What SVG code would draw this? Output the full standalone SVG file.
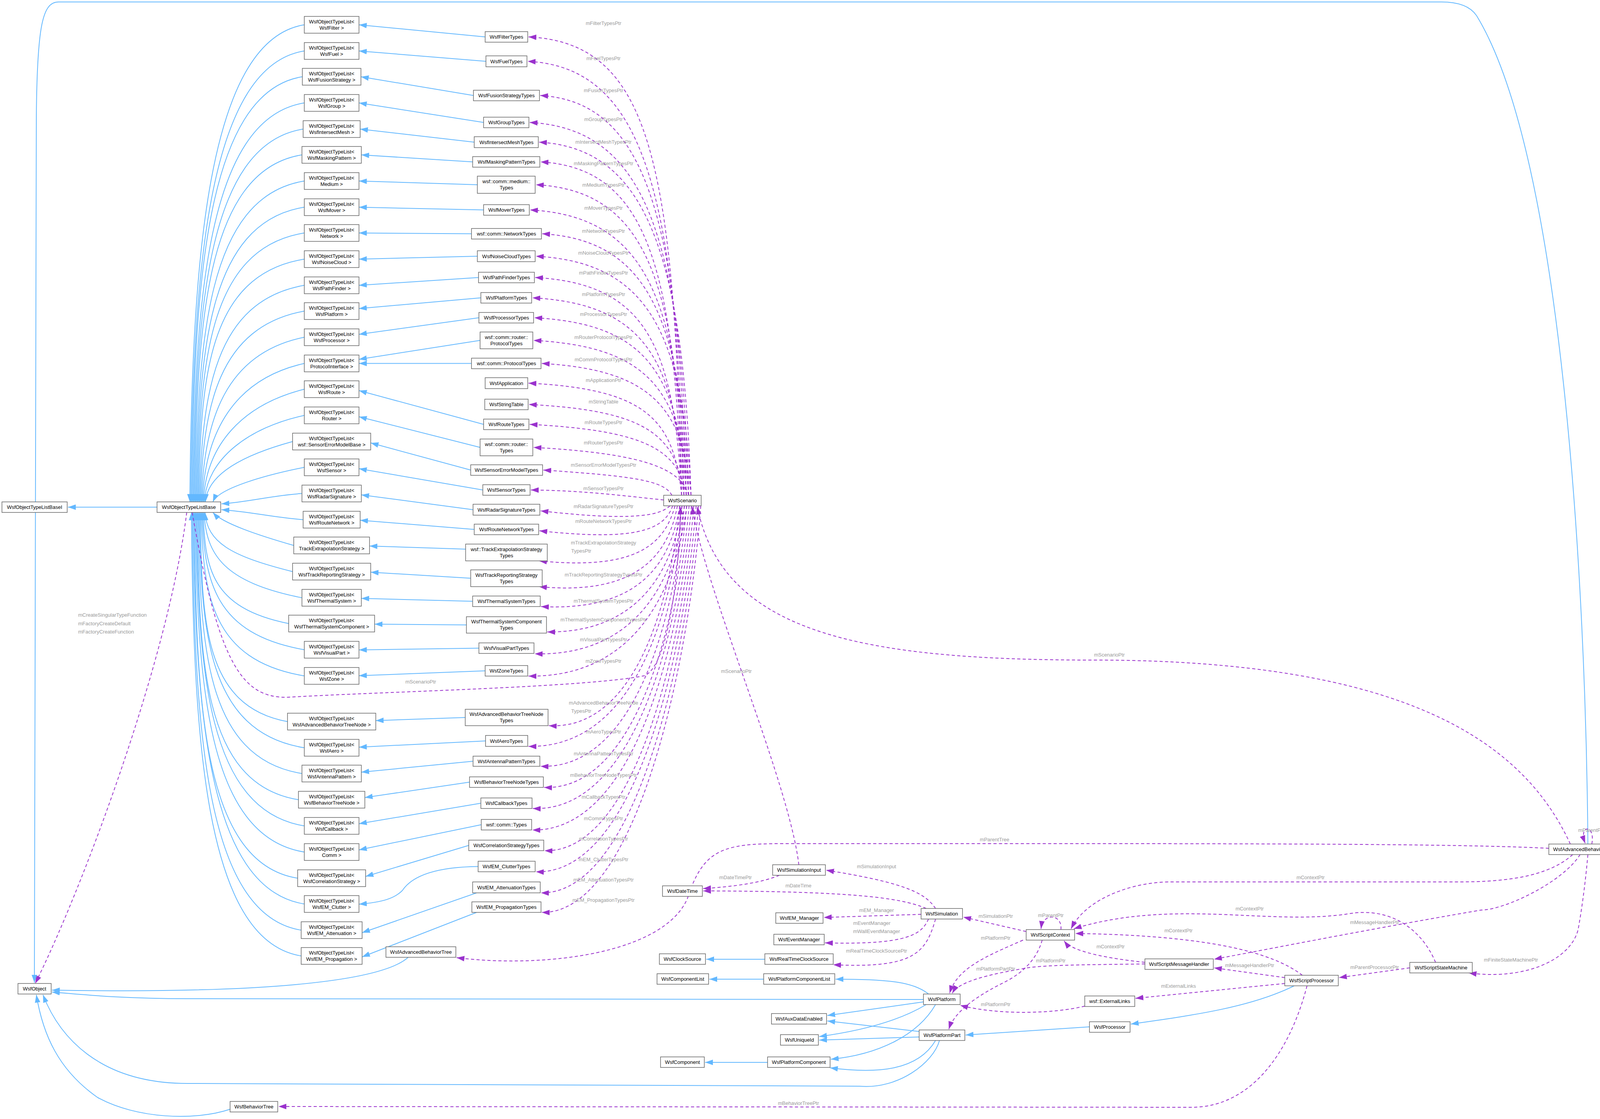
<svg xmlns="http://www.w3.org/2000/svg" width="5146" height="2865" viewBox="0 0 5146 2865">
<style>
.n rect{fill:#fff;stroke:#666;stroke-width:1.5}
.n text,.t{font-family:"Liberation Sans",Arial,sans-serif;font-size:13px;fill:#000;text-anchor:middle}
.l{font-family:"Liberation Sans",Arial,sans-serif;font-size:13px;fill:#9a9a9a;text-anchor:middle}
.b{fill:none;stroke:#63b8ff;stroke-width:2;marker-end:url(#ab)}
.p{fill:none;stroke:#9a32cd;stroke-width:2;stroke-dasharray:8,6;marker-end:url(#ap)}
</style>
<defs>
<marker id="ab" viewBox="0 0 20 14" refX="20" refY="7" markerWidth="20" markerHeight="14" markerUnits="userSpaceOnUse" orient="auto"><path d="M0,0 L20,7 L0,14 z" fill="#63b8ff"/></marker>
<marker id="ap" viewBox="0 0 20 14" refX="20" refY="7" markerWidth="20" markerHeight="14" markerUnits="userSpaceOnUse" orient="auto"><path d="M0,0 L20,7 L0,14 z" fill="#9a32cd"/></marker>
</defs>
<rect width="5146" height="2865" fill="#fff"/>
<g id="connectors">
<path class="b" d="M779 63.5 C529 103.5 491 674 486 1285"/>
<path class="b" d="M779 130.5 C529 170.5 493.5 708 488.5 1285"/>
<path class="b" d="M774 196.5 C524 236.5 496 741 491 1285"/>
<path class="b" d="M779 263.5 C529 303.5 498.5 774 493.5 1285"/>
<path class="b" d="M776 330.5 C526 370.5 501 808 496 1285"/>
<path class="b" d="M773 396.5 C523 436.5 503.5 841 498.5 1285"/>
<path class="b" d="M779 463.5 C529 503.5 506 874 501 1285"/>
<path class="b" d="M779 530.5 C529 570.5 508.5 908 503.5 1285"/>
<path class="b" d="M779 596.5 C529 636.5 511 941 506 1285"/>
<path class="b" d="M779 663.5 C529 703.5 513.5 974 508.5 1285"/>
<path class="b" d="M779 730.5 C549 770.5 516 1008 511 1285"/>
<path class="b" d="M779 796.5 C559 836.5 518.5 1041 513.5 1285"/>
<path class="b" d="M779 863.5 C579 903.5 521 1074 516 1285"/>
<path class="b" d="M779 930.5 C599 970.5 523.5 1108 518.5 1285"/>
<path class="b" d="M779 996.5 C619 1036.5 526 1141 521 1285"/>
<path class="b" d="M779 1063.5 C639 1093.5 528.5 1174 523.5 1285"/>
<path class="b" d="M749 1130.5 C639 1160.5 531 1208 526 1285"/>
<path class="b" d="M779 1196.5 C679 1216.5 560 1250 545 1285"/>
<path class="b" d="M773 1263.5 C700 1268 640 1285 567 1290"/>
<path class="b" d="M776 1330.5 C700 1325 640 1310 567 1305"/>
<path class="b" d="M752 1396.5 C660 1370 570 1340 545 1312"/>
<path class="b" d="M749 1463.5 C589 1423.5 530 1388 525 1312"/>
<path class="b" d="M773 1530.5 C573 1490.5 527.5 1421 522.5 1312"/>
<path class="b" d="M739 1596.5 C539 1556.5 525 1454 520 1312"/>
<path class="b" d="M779 1663.5 C549 1623.5 522.5 1488 517.5 1312"/>
<path class="b" d="M779 1730.5 C539 1690.5 520 1521 515 1312"/>
<path class="b" d="M736 1847.5 C516 1807.5 517.5 1580 512.5 1312"/>
<path class="b" d="M779 1914.5 C529 1874.5 515 1613 510 1312"/>
<path class="b" d="M773 1980.5 C523 1940.5 512.5 1646 507.5 1312"/>
<path class="b" d="M764 2047.5 C514 2007.5 510 1680 505 1312"/>
<path class="b" d="M779 2114.5 C529 2074.5 507.5 1713 502.5 1312"/>
<path class="b" d="M779 2181.5 C529 2141.5 505 1747 500 1312"/>
<path class="b" d="M762 2248.5 C512 2208.5 502.5 1780 497.5 1312"/>
<path class="b" d="M779 2314.5 C529 2274.5 500 1813 495 1312"/>
<path class="b" d="M771 2381.5 C521 2341.5 497.5 1847 492.5 1312"/>
<path class="b" d="M771 2447.5 C521 2407.5 495 1880 490 1312"/>
<path class="b" d="M402 1298.5 L174 1298.5"/>
<path class="b" d="M1242 94.5 L919 63.5"/>
<path class="b" d="M1244 157 L919 130.5"/>
<path class="b" d="M1212 244.5 L924 196.5"/>
<path class="b" d="M1238 313.5 L919 263.5"/>
<path class="b" d="M1214 364 L922 330.5"/>
<path class="b" d="M1210 414.5 L925 396.5"/>
<path class="b" d="M1222 473 L919 463.5"/>
<path class="b" d="M1238 537.5 L919 530.5"/>
<path class="b" d="M1207 598.5 L919 596.5"/>
<path class="b" d="M1222 656 L919 663.5"/>
<path class="b" d="M1225 710.5 L919 730.5"/>
<path class="b" d="M1231 762.5 L919 790"/>
<path class="b" d="M1226 813.5 L919 856"/>
<path class="b" d="M1229 871.5 L919 920"/>
<path class="b" d="M1207 930.5 L919 930.5"/>
<path class="b" d="M1238 1086.5 L919 1000"/>
<path class="b" d="M1229 1145.5 L919 1067"/>
<path class="b" d="M1205 1203.5 L949 1134"/>
<path class="b" d="M1236 1254.5 L919 1200"/>
<path class="b" d="M1211 1305 L925 1267"/>
<path class="b" d="M1214 1355.5 L922 1332"/>
<path class="b" d="M1192 1406 L946 1398"/>
<path class="b" d="M1205 1480.5 L949 1465"/>
<path class="b" d="M1210 1539.5 L925 1532"/>
<path class="b" d="M1194 1600 L959 1598"/>
<path class="b" d="M1226 1659.5 L919 1664"/>
<path class="b" d="M1242 1717.5 L919 1730"/>
<path class="b" d="M1191 1837 L962 1845"/>
<path class="b" d="M1243 1897 L919 1913"/>
<path class="b" d="M1211 1949 L925 1977"/>
<path class="b" d="M1202 2002.5 L934 2042"/>
<path class="b" d="M1231 2056.5 L919 2109"/>
<path class="b" d="M1232 2111.5 L919 2176"/>
<path class="b" d="M1200 2164.5 L936 2244"/>
<path class="b" d="M1224 2218.5 C1100 2220 1050 2250 1030 2280 C1010 2300 980 2310 919 2315"/>
<path class="b" d="M1220 2286 L927 2388"/>
<path class="b" d="M1220 2336 L927 2450"/>
<path class="p" d="M1745 1268 C1725 400 1660 110 1353 94.5"/>
<path class="p" d="M1751 1268 C1731 500 1650 172 1351 157"/>
<path class="p" d="M1757 1268 C1737 550 1650 260 1383 244.5"/>
<path class="p" d="M1763 1268 C1743 600 1650 329 1356 313.5"/>
<path class="p" d="M1769 1268 C1749 640 1650 379 1380 364"/>
<path class="p" d="M1745 1268 C1725 670 1650 430 1384 414.5"/>
<path class="p" d="M1751 1268 C1731 710 1650 488 1372 473"/>
<path class="p" d="M1757 1268 C1737 760 1650 553 1357 537.5"/>
<path class="p" d="M1763 1268 C1743 800 1650 614 1388 598.5"/>
<path class="p" d="M1769 1268 C1749 840 1650 671 1372 656"/>
<path class="p" d="M1745 1268 C1725 880 1650 726 1370 710.5"/>
<path class="p" d="M1751 1268 C1731 920 1650 778 1363 762.5"/>
<path class="p" d="M1757 1268 C1737 950 1650 829 1368 813.5"/>
<path class="p" d="M1763 1268 C1743 990 1650 887 1366 871.5"/>
<path class="p" d="M1769 1268 C1749 1030 1650 946 1387 930.5"/>
<path class="p" d="M1745 1268 C1725 1070 1650 996 1353 981"/>
<path class="p" d="M1751 1268 C1731 1110 1650 1051 1354 1035.5"/>
<path class="p" d="M1757 1268 C1737 1150 1650 1102 1356 1086.5"/>
<path class="p" d="M1763 1268 C1743 1200 1650 1161 1366 1145.5"/>
<path class="p" d="M1720 1268 C1700 1230 1620 1219 1391 1203.5"/>
<path class="p" d="M1699 1280 C1600 1270 1500 1256 1359 1254.5"/>
<path class="p" d="M1715 1295 C1690 1320 1620 1335 1384 1308"/>
<path class="p" d="M1722 1295 C1700 1360 1620 1385 1381 1359"/>
<path class="p" d="M1728 1295 C1700 1400 1620 1460 1380 1436"/>
<path class="p" d="M1734 1295 C1710 1430 1620 1525 1380 1502"/>
<path class="p" d="M1740 1295 C1715 1460 1620 1565 1385 1553"/>
<path class="p" d="M1746 1295 C1720 1480 1620 1620 1401 1618"/>
<path class="p" d="M1752 1295 C1725 1500 1620 1680 1369 1674"/>
<path class="p" d="M1758 1295 C1730 1520 1620 1735 1353 1731"/>
<path class="p" d="M1740 1295 C1715 1560 1620 1870 1405 1858"/>
<path class="p" d="M1746 1295 C1720 1580 1620 1915 1353 1911"/>
<path class="p" d="M1752 1295 C1725 1600 1620 1970 1384 1962"/>
<path class="p" d="M1758 1295 C1730 1620 1620 2025 1393 2016"/>
<path class="p" d="M1764 1295 C1735 1640 1620 2080 1364 2070"/>
<path class="p" d="M1770 1295 C1740 1660 1620 2130 1363 2125"/>
<path class="p" d="M1776 1295 C1745 1680 1620 2185 1394 2178"/>
<path class="p" d="M1782 1295 C1750 1700 1620 2240 1372 2232"/>
<path class="p" d="M1788 1295 C1755 1720 1620 2290 1385 2286"/>
<path class="p" d="M1794 1295 C1760 1740 1620 2340 1387 2336"/>
<path class="p" d="M492 1312 C560 1700 620 1790 740 1785 C1000 1770 1500 1760 1650 1730 C1720 1700 1742 1400 1742 1297"/>
<path class="p" d="M478 1312 C430 1700 200 2300 90 2518"/>
<path class="p" d="M2045 2214 C2020 2000 1800 1500 1772 1297"/>
<path class="p" d="M4020 2161 C3900 1900 3600 1690 2800 1690 C2200 1690 1850 1620 1785 1297"/>
<path class="b" d="M4065 2161 C4060 1500 4000 400 3780 40 C3760 10 3720 5 3690 5 L150 5 C110 5 95 60 93 300 L88 2516"/>
<path class="b" d="M1045 2451 C980 2510 700 2545 133 2535"/>
<path class="b" d="M2364 2559 L480 2557 C300 2557 200 2545 133 2540"/>
<path class="b" d="M2405 2664 C2390 2720 2300 2790 2200 2781 L480 2774 C250 2774 150 2650 110 2547"/>
<path class="b" d="M589 2840 C500 2870 350 2865 250 2810 C150 2740 110 2650 93 2547"/>
<path class="p" d="M3965 2172 C3700 2158 3000 2160 2000 2160 C1850 2160 1800 2175 1760 2300 C1700 2440 1400 2480 1169 2452"/>
<path class="p" d="M3346 2524 C3300 2700 3200 2835 3050 2835 L713 2833"/>
<path class="p" d="M2395 2326 C2370 2290 2330 2262 2115 2228"/>
<path class="p" d="M1995 2241 C1950 2260 1880 2270 1800 2275"/>
<path class="p" d="M2371 2326 C2300 2295 2150 2282 1800 2281"/>
<path class="p" d="M2358 2341 L2109 2349"/>
<path class="p" d="M2377 2353 C2360 2390 2330 2420 2112 2414"/>
<path class="p" d="M2395 2353 C2370 2440 2340 2480 2133 2470"/>
<path class="b" d="M1958 2456 L1808 2456"/>
<path class="b" d="M1955 2507 L1816 2507"/>
<path class="b" d="M1965 2720 L1805 2720"/>
<path class="b" d="M2377 2545 C2340 2515 2280 2507 2139 2507"/>
<path class="b" d="M2365 2565 L2118 2600"/>
<path class="b" d="M2371 2572 C2300 2615 2200 2640 2097 2654"/>
<path class="b" d="M2395 2572 C2350 2650 2250 2700 2127 2712"/>
<path class="b" d="M2353 2641 L2118 2614"/>
<path class="b" d="M2353 2655 L2097 2663"/>
<path class="b" d="M2395 2664 C2350 2740 2250 2750 2125 2734"/>
<path class="b" d="M2789 2629 L2472 2650"/>
<path class="b" d="M3313 2524 C3200 2580 3050 2600 2895 2622"/>
<path class="b" d="M4226 2174.5 L4178 2174.5"/>
<path class="b" d="M4549 2174.5 L4502 2174.5"/>
<path class="b" d="M4868 2174.5 L4819 2174.5"/>
<path class="p" d="M2627 2385 L2466 2348"/>
<path class="p" d="M2716 2380 C2720 2340 2670 2335 2665 2378"/>
<path class="p" d="M2619 2407 C2520 2450 2450 2480 2431 2543"/>
<path class="p" d="M2668 2407 C2650 2470 2600 2500 2571 2515 C2480 2560 2440 2600 2429 2635"/>
<path class="p" d="M2931 2468 C2800 2470 2660 2470 2619 2480 C2500 2500 2450 2520 2438 2543"/>
<path class="p" d="M2931 2464 C2800 2450 2740 2430 2724 2409"/>
<path class="p" d="M3334 2497 C3260 2440 3100 2395 2753 2390"/>
<path class="p" d="M3289 2503 L3108 2478"/>
<path class="p" d="M3289 2518 L2907 2556"/>
<path class="p" d="M2777 2576 C2700 2595 2560 2600 2458 2574"/>
<path class="p" d="M3609 2478 L3428 2503"/>
<path class="p" d="M3675 2464 C3640 2380 3560 2320 3450 2340 C3250 2370 3000 2300 2749 2378"/>
<path class="p" d="M4026 2188 C3950 2258 3800 2258 3714 2258 L2996 2258 C2900 2258 2780 2300 2742 2378"/>
<path class="p" d="M4045 2188 C4000 2260 3850 2330 3792 2330 C3500 2380 3300 2420 3108 2456"/>
<path class="p" d="M4065 2188 C4055 2300 4042 2368 4040 2380 C4020 2460 3900 2510 3760 2491"/>
<path class="p" d="M4075 2161 C4085 2110 4040 2110 4058 2159"/>
</g>
<g id="labels">
<text class="l" x="1545" y="64">mFilterTypesPtr</text>
<text class="l" x="1545" y="154">mFuelTypesPtr</text>
<text class="l" x="1545" y="236">mFusionTypesPtr</text>
<text class="l" x="1545" y="310">mGroupTypesPtr</text>
<text class="l" x="1545" y="368">mIntersectMeshTypesPtr</text>
<text class="l" x="1545" y="423">mMaskingPatternTypesPtr</text>
<text class="l" x="1545" y="478">mMediumTypesPtr</text>
<text class="l" x="1545" y="537">mMoverTypesPtr</text>
<text class="l" x="1545" y="596">mNetworkTypesPtr</text>
<text class="l" x="1545" y="652">mNoiseCloudTypesPtr</text>
<text class="l" x="1545" y="703">mPathFinderTypesPtr</text>
<text class="l" x="1545" y="758">mPlatformTypesPtr</text>
<text class="l" x="1545" y="809">mProcessorTypesPtr</text>
<text class="l" x="1545" y="868">mRouterProtocolTypesPtr</text>
<text class="l" x="1545" y="925">mCommProtocolTypesPtr</text>
<text class="l" x="1545" y="978">mApplicationPtr</text>
<text class="l" x="1545" y="1033">mStringTable</text>
<text class="l" x="1545" y="1086">mRouteTypesPtr</text>
<text class="l" x="1545" y="1138">mRouterTypesPtr</text>
<text class="l" x="1545" y="1195">mSensorErrorModelTypesPtr</text>
<text class="l" x="1545" y="1255">mSensorTypesPtr</text>
<text class="l" x="1545" y="1301">mRadarSignatureTypesPtr</text>
<text class="l" x="1545" y="1339">mRouteNetworkTypesPtr</text>
<text class="l" x="1545" y="1394">mTrackExtrapolationStrategy</text>
<text class="l" x="1488" y="1415">TypesPtr</text>
<text class="l" x="1545" y="1476">mTrackReportingStrategyTypesPtr</text>
<text class="l" x="1545" y="1543">mThermalSystemTypesPtr</text>
<text class="l" x="1545" y="1591">mThermalSystemComponentTypesPtr</text>
<text class="l" x="1545" y="1642">mVisualPartTypesPtr</text>
<text class="l" x="1545" y="1697">mZoneTypesPtr</text>
<text class="l" x="1545" y="1804">mAdvancedBehaviorTreeNode</text>
<text class="l" x="1488" y="1825">TypesPtr</text>
<text class="l" x="1545" y="1878">mAeroTypesPtr</text>
<text class="l" x="1545" y="1934">mAntennaPatternTypesPtr</text>
<text class="l" x="1545" y="1989">mBehaviorTreeNodeTypesPtr</text>
<text class="l" x="1545" y="2045">mCallbackTypesPtr</text>
<text class="l" x="1545" y="2100">mCommTypesPtr</text>
<text class="l" x="1545" y="2152">mCorrelationTypesPtr</text>
<text class="l" x="1545" y="2205">mEM_ClutterTypesPtr</text>
<text class="l" x="1545" y="2257">mEM_AttenuationTypesPtr</text>
<text class="l" x="1545" y="2309">mEM_PropagationTypesPtr</text>
<text class="l" x="1077" y="1750">mScenarioPtr</text>
<text class="l" x="1885" y="1723">mScenarioPtr</text>
<text class="l" x="2840" y="1681">mScenarioPtr</text>
<text class="l" x="200" y="1579" style="text-anchor:start">mCreateSingularTypeFunction</text>
<text class="l" x="200" y="1601" style="text-anchor:start">mFactoryCreateDefault</text>
<text class="l" x="200" y="1622" style="text-anchor:start">mFactoryCreateFunction</text>
<text class="l" x="2546" y="2154">mParentTree</text>
<text class="l" x="2044" y="2829">mBehaviorTreePtr</text>
<text class="l" x="2244" y="2223">mSimulationInput</text>
<text class="l" x="1883" y="2251">mDateTimePtr</text>
<text class="l" x="2044" y="2272">mDateTime</text>
<text class="l" x="2244" y="2335">mEM_Manager</text>
<text class="l" x="2232" y="2368">mEventManager</text>
<text class="l" x="2244" y="2389">mWallEventManager</text>
<text class="l" x="2244" y="2439">mRealTimeClockSourcePtr</text>
<text class="l" x="2549" y="2350">mSimulationPtr</text>
<text class="l" x="2690" y="2348">mParentPtr</text>
<text class="l" x="2549" y="2406">mPlatformPtr</text>
<text class="l" x="2690" y="2464">mPlatformPtr</text>
<text class="l" x="2549" y="2485">mPlatformPartPtr</text>
<text class="l" x="2843" y="2428">mContextPtr</text>
<text class="l" x="3017" y="2387">mContextPtr</text>
<text class="l" x="3199" y="2476">mMessageHandlerPtr</text>
<text class="l" x="3017" y="2529">mExternalLinks</text>
<text class="l" x="2549" y="2576">mPlatformPtr</text>
<text class="l" x="3519" y="2481">mParentProcessorPtr</text>
<text class="l" x="3199" y="2331">mContextPtr</text>
<text class="l" x="3355" y="2251">mContextPtr</text>
<text class="l" x="3519" y="2366">mMessageHandlerPtr</text>
<text class="l" x="3868" y="2462">mFiniteStateMachinePtr</text>
<text class="l" x="4073" y="2130">mParentPtr</text>
</g>
<g id="L0" class="n"><rect x="779" y="42" width="140" height="43"/><text x="849" y="60">WsfObjectTypeList&lt;</text><text x="849" y="76">WsfFilter &gt;</text></g>
<g id="L1" class="n"><rect x="779" y="109" width="140" height="43"/><text x="849" y="127">WsfObjectTypeList&lt;</text><text x="849" y="143">WsfFuel &gt;</text></g>
<g id="L2" class="n"><rect x="774" y="175" width="150" height="43"/><text x="849" y="193">WsfObjectTypeList&lt;</text><text x="849" y="209">WsfFusionStrategy &gt;</text></g>
<g id="L3" class="n"><rect x="779" y="242" width="140" height="43"/><text x="849" y="260">WsfObjectTypeList&lt;</text><text x="849" y="276">WsfGroup &gt;</text></g>
<g id="L4" class="n"><rect x="776" y="309" width="146" height="43"/><text x="849" y="327">WsfObjectTypeList&lt;</text><text x="849" y="343">WsfIntersectMesh &gt;</text></g>
<g id="L5" class="n"><rect x="773" y="375" width="152" height="43"/><text x="849" y="393">WsfObjectTypeList&lt;</text><text x="849" y="409">WsfMaskingPattern &gt;</text></g>
<g id="L6" class="n"><rect x="779" y="442" width="140" height="43"/><text x="849" y="460">WsfObjectTypeList&lt;</text><text x="849" y="476">Medium &gt;</text></g>
<g id="L7" class="n"><rect x="779" y="509" width="140" height="43"/><text x="849" y="527">WsfObjectTypeList&lt;</text><text x="849" y="543">WsfMover &gt;</text></g>
<g id="L8" class="n"><rect x="779" y="575" width="140" height="43"/><text x="849" y="593">WsfObjectTypeList&lt;</text><text x="849" y="609">Network &gt;</text></g>
<g id="L9" class="n"><rect x="779" y="642" width="140" height="43"/><text x="849" y="660">WsfObjectTypeList&lt;</text><text x="849" y="676">WsfNoiseCloud &gt;</text></g>
<g id="L10" class="n"><rect x="779" y="709" width="140" height="43"/><text x="849" y="727">WsfObjectTypeList&lt;</text><text x="849" y="743">WsfPathFinder &gt;</text></g>
<g id="L11" class="n"><rect x="779" y="775" width="140" height="43"/><text x="849" y="793">WsfObjectTypeList&lt;</text><text x="849" y="809">WsfPlatform &gt;</text></g>
<g id="L12" class="n"><rect x="779" y="842" width="140" height="43"/><text x="849" y="860">WsfObjectTypeList&lt;</text><text x="849" y="876">WsfProcessor &gt;</text></g>
<g id="L13" class="n"><rect x="779" y="909" width="140" height="43"/><text x="849" y="927">WsfObjectTypeList&lt;</text><text x="849" y="943">ProtocolInterface &gt;</text></g>
<g id="L14" class="n"><rect x="779" y="975" width="140" height="43"/><text x="849" y="993">WsfObjectTypeList&lt;</text><text x="849" y="1009">WsfRoute &gt;</text></g>
<g id="L15" class="n"><rect x="779" y="1042" width="140" height="43"/><text x="849" y="1060">WsfObjectTypeList&lt;</text><text x="849" y="1076">Router &gt;</text></g>
<g id="L16" class="n"><rect x="749" y="1109" width="200" height="43"/><text x="849" y="1127">WsfObjectTypeList&lt;</text><text x="849" y="1143">wsf::SensorErrorModelBase &gt;</text></g>
<g id="L17" class="n"><rect x="779" y="1175" width="140" height="43"/><text x="849" y="1193">WsfObjectTypeList&lt;</text><text x="849" y="1209">WsfSensor &gt;</text></g>
<g id="L18" class="n"><rect x="773" y="1242" width="152" height="43"/><text x="849" y="1260">WsfObjectTypeList&lt;</text><text x="849" y="1276">WsfRadarSignature &gt;</text></g>
<g id="L19" class="n"><rect x="776" y="1309" width="146" height="43"/><text x="849" y="1327">WsfObjectTypeList&lt;</text><text x="849" y="1343">WsfRouteNetwork &gt;</text></g>
<g id="L20" class="n"><rect x="752" y="1375" width="194" height="43"/><text x="849" y="1393">WsfObjectTypeList&lt;</text><text x="849" y="1409">TrackExtrapolationStrategy &gt;</text></g>
<g id="L21" class="n"><rect x="749" y="1442" width="200" height="43"/><text x="849" y="1460">WsfObjectTypeList&lt;</text><text x="849" y="1476">WsfTrackReportingStrategy &gt;</text></g>
<g id="L22" class="n"><rect x="773" y="1509" width="152" height="43"/><text x="849" y="1527">WsfObjectTypeList&lt;</text><text x="849" y="1543">WsfThermalSystem &gt;</text></g>
<g id="L23" class="n"><rect x="739" y="1575" width="220" height="43"/><text x="849" y="1593">WsfObjectTypeList&lt;</text><text x="849" y="1609">WsfThermalSystemComponent &gt;</text></g>
<g id="L24" class="n"><rect x="779" y="1642" width="140" height="43"/><text x="849" y="1660">WsfObjectTypeList&lt;</text><text x="849" y="1676">WsfVisualPart &gt;</text></g>
<g id="L25" class="n"><rect x="779" y="1709" width="140" height="43"/><text x="849" y="1727">WsfObjectTypeList&lt;</text><text x="849" y="1743">WsfZone &gt;</text></g>
<g id="L26" class="n"><rect x="736" y="1826" width="226" height="43"/><text x="849" y="1844">WsfObjectTypeList&lt;</text><text x="849" y="1860">WsfAdvancedBehaviorTreeNode &gt;</text></g>
<g id="L27" class="n"><rect x="779" y="1893" width="140" height="43"/><text x="849" y="1911">WsfObjectTypeList&lt;</text><text x="849" y="1927">WsfAero &gt;</text></g>
<g id="L28" class="n"><rect x="773" y="1959" width="152" height="43"/><text x="849" y="1977">WsfObjectTypeList&lt;</text><text x="849" y="1993">WsfAntennaPattern &gt;</text></g>
<g id="L29" class="n"><rect x="764" y="2026" width="170" height="43"/><text x="849" y="2044">WsfObjectTypeList&lt;</text><text x="849" y="2060">WsfBehaviorTreeNode &gt;</text></g>
<g id="L30" class="n"><rect x="779" y="2093" width="140" height="43"/><text x="849" y="2111">WsfObjectTypeList&lt;</text><text x="849" y="2127">WsfCallback &gt;</text></g>
<g id="L31" class="n"><rect x="779" y="2160" width="140" height="43"/><text x="849" y="2178">WsfObjectTypeList&lt;</text><text x="849" y="2194">Comm &gt;</text></g>
<g id="L32" class="n"><rect x="762" y="2227" width="174" height="43"/><text x="849" y="2245">WsfObjectTypeList&lt;</text><text x="849" y="2261">WsfCorrelationStrategy &gt;</text></g>
<g id="L33" class="n"><rect x="779" y="2293" width="140" height="43"/><text x="849" y="2311">WsfObjectTypeList&lt;</text><text x="849" y="2327">WsfEM_Clutter &gt;</text></g>
<g id="L34" class="n"><rect x="771" y="2360" width="156" height="43"/><text x="849" y="2378">WsfObjectTypeList&lt;</text><text x="849" y="2394">WsfEM_Attenuation &gt;</text></g>
<g id="L35" class="n"><rect x="771" y="2426" width="156" height="43"/><text x="849" y="2444">WsfObjectTypeList&lt;</text><text x="849" y="2460">WsfEM_Propagation &gt;</text></g>
<g id="T0" class="n"><rect x="1242" y="81" width="109" height="27"/><text x="1296.5" y="99">WsfFilterTypes</text></g>
<g id="T1" class="n"><rect x="1244" y="143" width="105" height="28"/><text x="1296.5" y="161.5">WsfFuelTypes</text></g>
<g id="T2" class="n"><rect x="1212" y="231" width="169" height="27"/><text x="1296.5" y="249">WsfFusionStrategyTypes</text></g>
<g id="T3" class="n"><rect x="1238" y="300" width="116" height="27"/><text x="1296.5" y="318">WsfGroupTypes</text></g>
<g id="T4" class="n"><rect x="1214" y="350" width="164" height="28"/><text x="1296.5" y="368.5">WsfIntersectMeshTypes</text></g>
<g id="T5" class="n"><rect x="1210" y="401" width="172" height="27"/><text x="1296.5" y="419">WsfMaskingPatternTypes</text></g>
<g id="T6" class="n"><rect x="1222" y="451" width="148" height="44"/><text x="1296.5" y="469">wsf::comm::medium::</text><text x="1296.5" y="485">Types</text></g>
<g id="T7" class="n"><rect x="1238" y="524" width="117" height="27"/><text x="1296.5" y="542">WsfMoverTypes</text></g>
<g id="T8" class="n"><rect x="1207" y="585" width="179" height="27"/><text x="1296.5" y="603">wsf::comm::NetworkTypes</text></g>
<g id="T9" class="n"><rect x="1222" y="642" width="148" height="28"/><text x="1296.5" y="660.5">WsfNoiseCloudTypes</text></g>
<g id="T10" class="n"><rect x="1225" y="697" width="143" height="27"/><text x="1296.5" y="715">WsfPathFinderTypes</text></g>
<g id="T11" class="n"><rect x="1231" y="749" width="130" height="27"/><text x="1296.5" y="767">WsfPlatformTypes</text></g>
<g id="T12" class="n"><rect x="1226" y="800" width="140" height="27"/><text x="1296.5" y="818">WsfProcessorTypes</text></g>
<g id="T13" class="n"><rect x="1229" y="850" width="135" height="43"/><text x="1296.5" y="868">wsf::comm::router::</text><text x="1296.5" y="884">ProtocolTypes</text></g>
<g id="T14" class="n"><rect x="1207" y="917" width="178" height="27"/><text x="1296.5" y="935">wsf::comm::ProtocolTypes</text></g>
<g id="T15" class="n"><rect x="1242" y="967" width="109" height="28"/><text x="1296.5" y="985.5">WsfApplication</text></g>
<g id="T16" class="n"><rect x="1241" y="1022" width="111" height="27"/><text x="1296.5" y="1040">WsfStringTable</text></g>
<g id="T17" class="n"><rect x="1238" y="1073" width="116" height="27"/><text x="1296.5" y="1091">WsfRouteTypes</text></g>
<g id="T18" class="n"><rect x="1229" y="1124" width="135" height="43"/><text x="1296.5" y="1142">wsf::comm::router::</text><text x="1296.5" y="1158">Types</text></g>
<g id="T19" class="n"><rect x="1205" y="1190" width="184" height="27"/><text x="1296.5" y="1208">WsfSensorErrorModelTypes</text></g>
<g id="T20" class="n"><rect x="1236" y="1241" width="121" height="27"/><text x="1296.5" y="1259">WsfSensorTypes</text></g>
<g id="T21" class="n"><rect x="1211" y="1291" width="171" height="28"/><text x="1296.5" y="1309.5">WsfRadarSignatureTypes</text></g>
<g id="T22" class="n"><rect x="1214" y="1342" width="165" height="27"/><text x="1296.5" y="1360">WsfRouteNetworkTypes</text></g>
<g id="T23" class="n"><rect x="1192" y="1393" width="209" height="43"/><text x="1296.5" y="1411">wsf::TrackExtrapolationStrategy</text><text x="1296.5" y="1427">Types</text></g>
<g id="T24" class="n"><rect x="1205" y="1459" width="183" height="43"/><text x="1296.5" y="1477">WsfTrackReportingStrategy</text><text x="1296.5" y="1493">Types</text></g>
<g id="T25" class="n"><rect x="1210" y="1526" width="173" height="27"/><text x="1296.5" y="1544">WsfThermalSystemTypes</text></g>
<g id="T26" class="n"><rect x="1194" y="1579" width="205" height="42"/><text x="1296.5" y="1596">WsfThermalSystemComponent</text><text x="1296.5" y="1612">Types</text></g>
<g id="T27" class="n"><rect x="1226" y="1646" width="141" height="27"/><text x="1296.5" y="1664">WsfVisualPartTypes</text></g>
<g id="T28" class="n"><rect x="1242" y="1704" width="109" height="27"/><text x="1296.5" y="1722">WsfZoneTypes</text></g>
<g id="T29" class="n"><rect x="1191" y="1816" width="212" height="42"/><text x="1296.5" y="1833">WsfAdvancedBehaviorTreeNode</text><text x="1296.5" y="1849">Types</text></g>
<g id="T30" class="n"><rect x="1243" y="1883" width="108" height="28"/><text x="1296.5" y="1901.5">WsfAeroTypes</text></g>
<g id="T31" class="n"><rect x="1211" y="1936" width="171" height="26"/><text x="1296.5" y="1953.5">WsfAntennaPatternTypes</text></g>
<g id="T32" class="n"><rect x="1202" y="1989" width="189" height="27"/><text x="1296.5" y="2007">WsfBehaviorTreeNodeTypes</text></g>
<g id="T33" class="n"><rect x="1231" y="2043" width="131" height="27"/><text x="1296.5" y="2061">WsfCallbackTypes</text></g>
<g id="T34" class="n"><rect x="1232" y="2098" width="129" height="27"/><text x="1296.5" y="2116">wsf::comm::Types</text></g>
<g id="T35" class="n"><rect x="1200" y="2151" width="192" height="27"/><text x="1296.5" y="2169">WsfCorrelationStrategyTypes</text></g>
<g id="T36" class="n"><rect x="1224" y="2205" width="146" height="27"/><text x="1296.5" y="2223">WsfEM_ClutterTypes</text></g>
<g id="T37" class="n"><rect x="1210" y="2258" width="173" height="28"/><text x="1296.5" y="2276.5">WsfEM_AttenuationTypes</text></g>
<g id="T38" class="n"><rect x="1208" y="2309" width="177" height="27"/><text x="1296.5" y="2327">WsfEM_PropagationTypes</text></g>
<g id="WsfScenario" class="n"><rect x="1699" y="1268" width="96" height="27"/><text x="1747" y="1286">WsfScenario</text></g>
<g id="WsfObjectTypeListBaseI" class="n"><rect x="5" y="1285" width="167" height="27"/><text x="88.5" y="1303">WsfObjectTypeListBaseI</text></g>
<g id="WsfObjectTypeListBase" class="n"><rect x="402" y="1285" width="163" height="27"/><text x="483.5" y="1303">WsfObjectTypeListBase</text></g>
<g id="WsfObject" class="n"><rect x="46" y="2518" width="85" height="27"/><text x="88.5" y="2536">WsfObject</text></g>
<g id="WsfAdvancedBehaviorTree" class="n"><rect x="988" y="2424" width="179" height="27"/><text x="1077.5" y="2442">WsfAdvancedBehaviorTree</text></g>
<g id="WsfBehaviorTree" class="n"><rect x="589" y="2820" width="122" height="27"/><text x="650" y="2838">WsfBehaviorTree</text></g>
<g id="WsfSimulationInput" class="n"><rect x="1978" y="2214" width="135" height="27"/><text x="2045.5" y="2232">WsfSimulationInput</text></g>
<g id="WsfDateTime" class="n"><rect x="1696" y="2268" width="102" height="27"/><text x="1747" y="2286">WsfDateTime</text></g>
<g id="WsfSimulation" class="n"><rect x="2358" y="2326" width="106" height="27"/><text x="2411" y="2344">WsfSimulation</text></g>
<g id="WsfEM_Manager" class="n"><rect x="1986" y="2337" width="121" height="27"/><text x="2046.5" y="2355">WsfEM_Manager</text></g>
<g id="WsfEventManager" class="n"><rect x="1981" y="2392" width="129" height="27"/><text x="2045.5" y="2410">WsfEventManager</text></g>
<g id="WsfClockSource" class="n"><rect x="1688" y="2442" width="118" height="27"/><text x="1747" y="2460">WsfClockSource</text></g>
<g id="WsfRealTimeClockSource" class="n"><rect x="1958" y="2442" width="175" height="27"/><text x="2045.5" y="2460">WsfRealTimeClockSource</text></g>
<g id="WsfComponentList" class="n"><rect x="1682" y="2493" width="132" height="27"/><text x="1748" y="2511">WsfComponentList</text></g>
<g id="WsfPlatformComponentList" class="n"><rect x="1955" y="2493" width="182" height="27"/><text x="2046" y="2511">WsfPlatformComponentList</text></g>
<g id="WsfPlatform" class="n"><rect x="2364" y="2545" width="94" height="27"/><text x="2411" y="2563">WsfPlatform</text></g>
<g id="WsfAuxDataEnabled" class="n"><rect x="1975" y="2595" width="141" height="27"/><text x="2045.5" y="2613">WsfAuxDataEnabled</text></g>
<g id="WsfUniqueId" class="n"><rect x="1998" y="2649" width="97" height="27"/><text x="2046.5" y="2667">WsfUniqueId</text></g>
<g id="WsfPlatformPart" class="n"><rect x="2353" y="2637" width="117" height="27"/><text x="2411.5" y="2655">WsfPlatformPart</text></g>
<g id="WsfComponent" class="n"><rect x="1691" y="2706" width="112" height="27"/><text x="1747" y="2724">WsfComponent</text></g>
<g id="WsfPlatformComponent" class="n"><rect x="1965" y="2706" width="160" height="27"/><text x="2045" y="2724">WsfPlatformComponent</text></g>
<g id="WsfScriptContext" class="n"><rect x="2627" y="2380" width="124" height="27"/><text x="2689" y="2398">WsfScriptContext</text></g>
<g id="WsfScriptMessageHandler" class="n"><rect x="2931" y="2455" width="175" height="27"/><text x="3018.5" y="2473">WsfScriptMessageHandler</text></g>
<g id="WsfScriptProcessor" class="n"><rect x="3289" y="2497" width="137" height="27"/><text x="3357.5" y="2515">WsfScriptProcessor</text></g>
<g id="ExternalLinks" class="n"><rect x="2777" y="2550" width="128" height="27"/><text x="2841" y="2568">wsf::ExternalLinks</text></g>
<g id="WsfProcessor" class="n"><rect x="2789" y="2616" width="104" height="27"/><text x="2841" y="2634">WsfProcessor</text></g>
<g id="WsfScriptStateMachine" class="n"><rect x="3609" y="2464" width="160" height="27"/><text x="3689" y="2482">WsfScriptStateMachine</text></g>
<g id="WsfAdvancedBehaviorTreeNode" class="n"><rect x="3965" y="2161" width="211" height="27"/><text x="4070.5" y="2179">WsfAdvancedBehaviorTreeNode</text></g>
<g id="WsfAdvancedBehaviorTreeCompositeNode" class="n"><rect x="4226" y="2161" width="274" height="27"/><text x="4363" y="2179">WsfAdvancedBehaviorTreeCompositeNode</text></g>
<g id="WsfAdvancedBehaviorTreeDecoratorNode" class="n"><rect x="4549" y="2161" width="268" height="27"/><text x="4683" y="2179">WsfAdvancedBehaviorTreeDecoratorNode</text></g>
<g id="WsfAdvancedBehaviorTreeSucceederNode" class="n"><rect x="4868" y="2161" width="273" height="27" style="fill:#999"/><text x="5004.5" y="2179">WsfAdvancedBehaviorTreeSucceederNode</text></g>
</svg>
